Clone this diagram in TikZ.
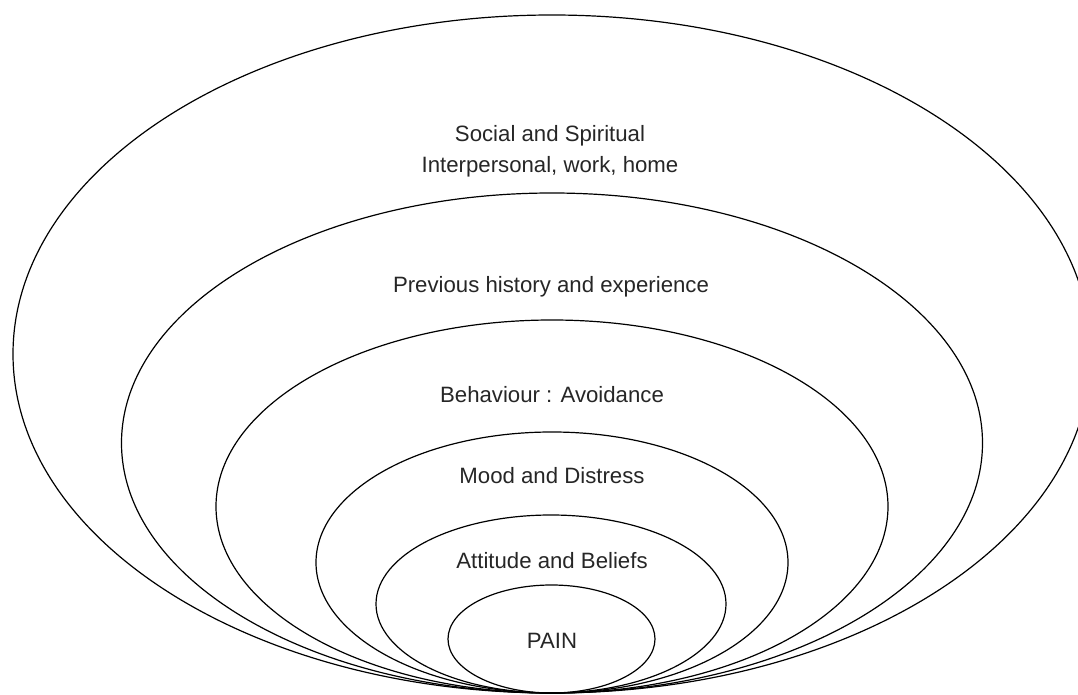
\documentclass[tikz,border=0pt]{standalone}
\usepackage{fontspec}
\setmainfont{Liberation Sans}
\begin{document}
\begin{tikzpicture}[x = .5pt, y = -.5pt,
    ring/.style = {line width = .6pt},
    lbl/.style = {anchor = base, inner sep = 0pt,
      font = \fontsize{11.1}{13}\selectfont, text = black!85}]
      \useasboundingbox (0,0) rectangle (1078,695);
      \clip (0,0) rectangle (1078,695);
      \draw [ring] (552,354) ellipse [x radius = 539, y radius = 339];
      \draw [ring] (552,443) ellipse [x radius = 430.5, y radius = 250];
      \draw [ring] (552,506.5) ellipse [x radius = 336, y radius = 186.5];
      \draw [ring] (552,562.5) ellipse [x radius = 236, y radius = 130.5];
      \draw [ring] (551,604) ellipse [x radius = 175, y radius = 89];
      \draw [ring] (551.5,639) ellipse [x radius = 103.5, y radius = 54];
      \node [lbl] (social) at (550,142) {Social and Spiritual};
      \node [lbl] (inter) at (550,173) {Interpersonal, work, home};
      \node [lbl] (history) at (551,293) {Previous history and experience};
      \node [lbl] (behav) at (552,403) {Behaviour : Avoidance};
      \node [lbl] (mood) at (552,484) {Mood and Distress};
      \node [lbl] (belief) at (552,568) {Attitude and Beliefs};
      \node [lbl] (pain) at (552,648) {PAIN};
    \end{tikzpicture}
\end{document}
